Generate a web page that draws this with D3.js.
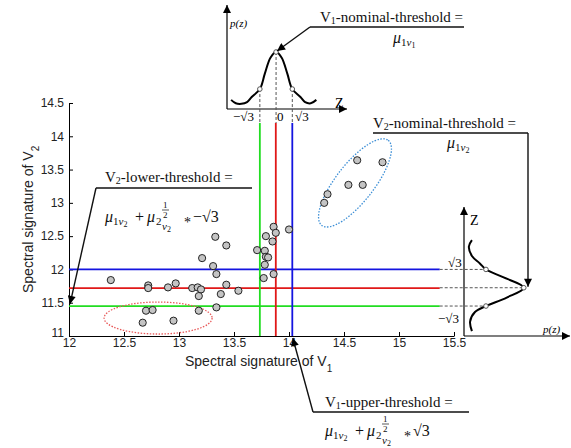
<!DOCTYPE html>
<html lang="en">
<head>
<meta charset="UTF-8">
<title>Spectral signature thresholds</title>
<style>
  body { margin: 0; background: #fff; }
  .axis text { font-family: "Liberation Sans", Arial, sans-serif; font-size: 12px; fill: #222; }
  .axis path, .axis line { stroke: #000; }
</style>
</head>
<body>
<svg id="chart" width="571" height="448"></svg>
<script src="https://d3js.org/d3.v7.min.js"></script>
<script>
// ---- data ----
var xTicks = [12, 12.5, 13, 13.5, 14, 14.5, 15, 15.5];
var yTicks = [11, 11.5, 12, 12.5, 13, 13.5, 14, 14.5];

// scatter: spectral signature of V1 (x) and V2 (y)
var v1Signature = [12.38, 12.72, 12.72, 12.90, 12.97, 13.12, 13.17, 13.20, 13.18, 13.21, 13.31, 13.34,
                   13.33, 13.43, 13.43, 13.38, 13.54, 13.34, 12.70, 12.76, 12.67, 12.95, 13.18,
                   13.86, 13.88, 13.79, 13.85, 13.71, 13.78, 13.79, 13.81, 13.78, 13.86, 13.77, 14.00,
                   14.62, 14.85, 14.54, 14.67, 14.35, 14.32];
var v2Signature = [11.84, 11.76, 11.72, 11.73, 11.79, 11.72, 11.73, 11.70, 11.60, 12.17, 12.05, 11.93,
                   12.49, 12.36, 11.77, 11.63, 11.68, 11.43, 11.38, 11.39, 11.20, 11.23, 11.38,
                   12.64, 12.55, 12.50, 12.42, 12.29, 12.28, 12.19, 12.18, 12.07, 11.93, 11.87, 12.60,
                   13.64, 13.61, 13.27, 13.27, 13.13, 13.00];

// thresholds: lower, nominal, upper
var thresholdColors = ["#22dd22", "#e01818", "#1414e0"];
var v1Thresholds = [13.735, 13.88, 14.03];
var v2Thresholds = [11.45, 11.72, 12.0];
var v1LineTop = 14.2;
var v2LineEnd = 15.37;

// the two p(z) sketches
var zTop = [-4.8, -4.3, -3.7, -3.1, -2.6, -1.732, -1.2, -0.6, 0, 0.6, 1.2, 1.732, 2.6, 3.1, 3.7, 4.3];
var pTop = [0.16, 0.10, 0.09, 0.12, 0.21, 0.35, 0.62, 0.90, 1, 0.90, 0.62, 0.35, 0.21, 0.12, 0.10, 0.16];
var zRight = [4.5, 3.9, 3.0, 2.3, 1.732, 1.0, 0, -0.93, -1.732, -2.3, -3.2, -4.1];
var pRight = [0.13, 0.08, 0.13, 0.26, 0.36, 0.64, 0.98, 0.70, 0.36, 0.18, 0.10, 0.13];
var zMarks = [-Math.sqrt(3), 0, Math.sqrt(3)];
var pMarksTop = [0.35, 1, 0.35];
var pMarksRight = [0.36, 0.98, 0.36];

// ---- setup ----
var svg = d3.select("#chart");
var serif = "'Liberation Serif', 'Times New Roman', serif";
var sans = "'Liberation Sans', Arial, sans-serif";

var x = d3.scaleLinear().domain([12, 15.5]).range([69, 454]);
var y = d3.scaleLinear().domain([11, 14.5]).range([336, 103]);

svg.append("defs").append("marker")
    .attr("id", "arrow")
    .attr("viewBox", "0 0 10 10")
    .attr("refX", 10).attr("refY", 5)
    .attr("markerWidth", 11).attr("markerHeight", 8)
    .attr("markerUnits", "userSpaceOnUse")
    .attr("orient", "auto")
    .append("path").attr("d", "M0,0L10,5L0,10Z").attr("fill", "#000");

// ---- main axes ----
var fmt = function (d) { return String(d); };
svg.append("g").attr("class", "axis")
    .attr("transform", "translate(0," + y(11) + ")")
    .call(d3.axisBottom(x).tickValues(xTicks).tickFormat(fmt)
        .tickSizeInner(-4).tickSizeOuter(0).tickPadding(2));
svg.append("g").attr("class", "axis")
    .attr("transform", "translate(" + x(12) + ",0)")
    .call(d3.axisLeft(y).tickValues(yTicks).tickFormat(fmt)
        .tickSizeInner(-4).tickSizeOuter(0).tickPadding(5))
    .selectAll(".tick text").attr("dy", function (d) { return d === 11 ? "0" : "0.32em"; });

svg.append("text")
    .attr("x", 185).attr("y", 366)
    .attr("font-family", sans).attr("font-size", 14).attr("fill", "#222")
    .text("Spectral signature of V")
    .append("tspan").attr("font-size", 10).attr("dy", 6).text("1");
svg.append("text")
    .attr("transform", "translate(33,293) rotate(-90)")
    .attr("font-family", sans).attr("font-size", 14).attr("fill", "#222")
    .text("Spectral signature of V")
    .append("tspan").attr("font-size", 10).attr("dy", 6).text("2");

// ---- threshold lines ----
svg.selectAll(".hline").data(v2Thresholds).enter().append("line")
    .attr("x1", x(12)).attr("x2", x(v2LineEnd))
    .attr("y1", function (d) { return y(d); }).attr("y2", function (d) { return y(d); })
    .attr("stroke", function (d, i) { return thresholdColors[i]; })
    .attr("stroke-width", 1.8);
svg.selectAll(".vline").data(v1Thresholds).enter().append("line")
    .attr("x1", function (d) { return x(d); }).attr("x2", function (d) { return x(d); })
    .attr("y1", y(11)).attr("y2", y(v1LineTop))
    .attr("stroke", function (d, i) { return thresholdColors[i]; })
    .attr("stroke-width", 1.8);

// ---- cluster ellipses ----
svg.append("ellipse")
    .attr("cx", x(12.81)).attr("cy", y(11.27)).attr("rx", 54).attr("ry", 16)
    .attr("fill", "none").attr("stroke", "#e85a5a").attr("stroke-width", 1.3)
    .attr("stroke-dasharray", "1.5,1.5");
svg.append("ellipse")
    .attr("transform", "translate(" + x(14.6) + "," + y(13.3) + ") rotate(-52)")
    .attr("rx", 54).attr("ry", 19)
    .attr("fill", "none").attr("stroke", "#3d8fd6").attr("stroke-width", 1.3)
    .attr("stroke-dasharray", "1.5,1.5");

// ---- scatter ----
svg.selectAll(".pt").data(v1Signature).enter().append("circle")
    .attr("cx", function (d) { return x(d); })
    .attr("cy", function (d, i) { return y(v2Signature[i]); })
    .attr("r", 3.6)
    .attr("fill", "#c4c4c4").attr("stroke", "#111").attr("stroke-width", 0.9);

// ---- top p(z) sketch ----
var zx = d3.scaleLinear().domain([-Math.sqrt(3), Math.sqrt(3)]).range([x(v1Thresholds[0]), x(v1Thresholds[2])]);
var py = d3.scaleLinear().domain([0, 1]).range([109, 52]);
var topAxisX = 227;

svg.append("line").attr("x1", topAxisX).attr("y1", py(0)).attr("x2", topAxisX).attr("y2", 5)
    .attr("stroke", "#000").attr("stroke-width", 1.2).attr("marker-end", "url(#arrow)");
svg.append("line").attr("x1", topAxisX).attr("y1", py(0)).attr("x2", 347).attr("y2", py(0))
    .attr("stroke", "#000").attr("stroke-width", 1.2).attr("marker-end", "url(#arrow)");

svg.selectAll(".vdash").data(zMarks).enter().append("line")
    .attr("x1", function (d) { return zx(d); }).attr("x2", function (d) { return zx(d); })
    .attr("y1", function (d, i) { return py(pMarksTop[i]); }).attr("y2", y(v1LineTop))
    .attr("stroke", "#555").attr("stroke-width", 1).attr("stroke-dasharray", "3,2");

svg.append("path")
    .datum(zTop)
    .attr("d", d3.line()
        .x(function (d) { return zx(d); })
        .y(function (d, i) { return py(pTop[i]); })
        .curve(d3.curveCatmullRom))
    .attr("fill", "none").attr("stroke", "#000").attr("stroke-width", 2);

svg.selectAll(".tmark").data(zMarks).enter().append("circle")
    .attr("cx", function (d) { return zx(d); })
    .attr("cy", function (d, i) { return py(pMarksTop[i]); })
    .attr("r", 2.3).attr("fill", "#fff").attr("stroke", "#555");

svg.append("text").attr("x", 230).attr("y", 27)
    .attr("font-family", serif).attr("font-style", "italic").attr("font-size", 11).text("p(z)");
svg.append("text").attr("x", 335).attr("y", 108)
    .attr("font-family", serif).attr("font-size", 14).text("Z");
svg.append("text").attr("x", 233).attr("y", 121)
    .attr("font-family", serif).attr("font-size", 13).text("\u2212\u221A3");
svg.append("text").attr("x", 277).attr("y", 121)
    .attr("font-family", serif).attr("font-size", 13).text("0");
svg.append("text").attr("x", 295).attr("y", 121)
    .attr("font-family", serif).attr("font-size", 13).text("\u221A3");

// ---- right p(z) sketch ----
var zy = d3.scaleLinear().domain([-Math.sqrt(3), Math.sqrt(3)]).range([y(v2Thresholds[0]), y(v2Thresholds[2])]);
var px = d3.scaleLinear().domain([0, 1]).range([464, 525]);

svg.append("line").attr("x1", px(0)).attr("y1", 336).attr("x2", px(0)).attr("y2", 207)
    .attr("stroke", "#000").attr("stroke-width", 1.2).attr("marker-end", "url(#arrow)");
svg.append("line").attr("x1", px(0)).attr("y1", 336).attr("x2", 570).attr("y2", 336)
    .attr("stroke", "#000").attr("stroke-width", 1.2).attr("marker-end", "url(#arrow)");

svg.selectAll(".hdash").data(zMarks).enter().append("line")
    .attr("x1", x(v2LineEnd)).attr("x2", function (d, i) { return px(pMarksRight[i]); })
    .attr("y1", function (d) { return zy(d); }).attr("y2", function (d) { return zy(d); })
    .attr("stroke", "#555").attr("stroke-width", 1).attr("stroke-dasharray", "3,2");

svg.append("path")
    .datum(zRight)
    .attr("d", d3.line()
        .x(function (d, i) { return px(pRight[i]); })
        .y(function (d) { return zy(d); })
        .curve(d3.curveCatmullRom))
    .attr("fill", "none").attr("stroke", "#000").attr("stroke-width", 2);

svg.selectAll(".rmark").data(zMarks).enter().append("circle")
    .attr("cx", function (d, i) { return px(pMarksRight[i]); })
    .attr("cy", function (d) { return zy(d); })
    .attr("r", 2.3).attr("fill", "#fff").attr("stroke", "#555");

svg.append("text").attr("x", 470).attr("y", 225)
    .attr("font-family", serif).attr("font-size", 14).text("Z");
svg.append("text").attr("x", 448).attr("y", 267)
    .attr("font-family", serif).attr("font-size", 13).text("\u221A3");
svg.append("text").attr("x", 438).attr("y", 323)
    .attr("font-family", serif).attr("font-size", 13).text("\u2212\u221A3");
svg.append("text").attr("x", 543).attr("y", 333)
    .attr("font-family", serif).attr("font-style", "italic").attr("font-size", 11).text("p(z)");

// ---- annotations ----
function title(tx, ty, sub, rest) {
    var t = svg.append("text").attr("x", tx).attr("y", ty)
        .attr("font-family", serif).attr("font-size", 15).attr("fill", "#111");
    t.append("tspan").text("V");
    t.append("tspan").attr("font-size", 10).attr("dy", 2).text(sub);
    t.append("tspan").attr("dy", -2).text(rest);
}
function mu(tx, ty, sub, subv) {
    var t = svg.append("text").attr("x", tx).attr("y", ty)
        .attr("font-family", serif).attr("font-size", 16).attr("fill", "#111");
    t.append("tspan").attr("font-style", "italic").text("\u03BC");
    t.append("tspan").attr("font-size", 11).attr("dy", 3).text(sub);
    t.append("tspan").attr("font-size", 11).attr("font-style", "italic").text("v");
    t.append("tspan").attr("font-size", 8).attr("dy", 2).text(subv);
}
function formula(fx, fy, tail) {
    var f = svg.append("g").attr("font-family", serif).attr("fill", "#111");
    mu(fx, fy, "1", "2");
    f.append("text").attr("x", fx + 30).attr("y", fy).attr("font-size", 16).text("+");
    f.append("text").attr("x", fx + 42).attr("y", fy).attr("font-size", 16)
        .attr("font-style", "italic").text("\u03BC");
    f.append("text").attr("x", fx + 51).attr("y", fy + 3).attr("font-size", 11).text("2");
    f.append("text").attr("x", fx + 58).attr("y", fy - 14).attr("font-size", 9).text("1");
    f.append("line").attr("x1", fx + 57).attr("x2", fx + 64)
        .attr("y1", fy - 12).attr("y2", fy - 12).attr("stroke", "#111").attr("stroke-width", 0.7);
    f.append("text").attr("x", fx + 58).attr("y", fy - 4).attr("font-size", 9).text("2");
    var s = f.append("text").attr("x", fx + 57).attr("y", fy + 8).attr("font-size", 11);
    s.append("tspan").attr("font-style", "italic").text("v");
    s.append("tspan").attr("font-size", 8).attr("dy", 2).text("2");
    f.append("text").attr("x", fx + 79).attr("y", fy + 5).attr("font-size", 14).text("*");
    f.append("text").attr("x", fx + 88).attr("y", fy).attr("font-size", 16).text(tail);
}
function leader(points, arrow) {
    var l = svg.append("path")
        .attr("d", d3.line()(points))
        .attr("fill", "none").attr("stroke", "#111").attr("stroke-width", 1.4);
    if (arrow) l.attr("marker-end", "url(#arrow)");
}

// V1 nominal
title(320, 22, "1", "-nominal-threshold =");
mu(393, 43, "1", "1");
leader([[464, 27], [310, 27]]);
leader([[310, 27], [zx(0) + 1, py(1) - 1]], true);

// V2 nominal
title(373, 128, "2", "-nominal-threshold =");
mu(447, 148, "1", "2");
leader([[373, 133], [528, 133]]);
leader([[528, 133], [528, zy(0) - 1]], true);

// V2 lower
title(105, 182, "2", "-lower-threshold =");
formula(105, 222, "\u2212\u221A3");
leader([[252, 188], [96, 188]]);
leader([[96, 188], [x(12) + 1, y(v2Thresholds[0]) - 2]], true);

// V1 upper
title(325, 407, "1", "-upper-threshold =");
formula(325, 436, "\u221A3");
leader([[469, 412], [313, 412]]);
leader([[313, 412], [x(v1Thresholds[2]) + 0.5, y(11) + 2]], true);
</script>
</body>
</html>
